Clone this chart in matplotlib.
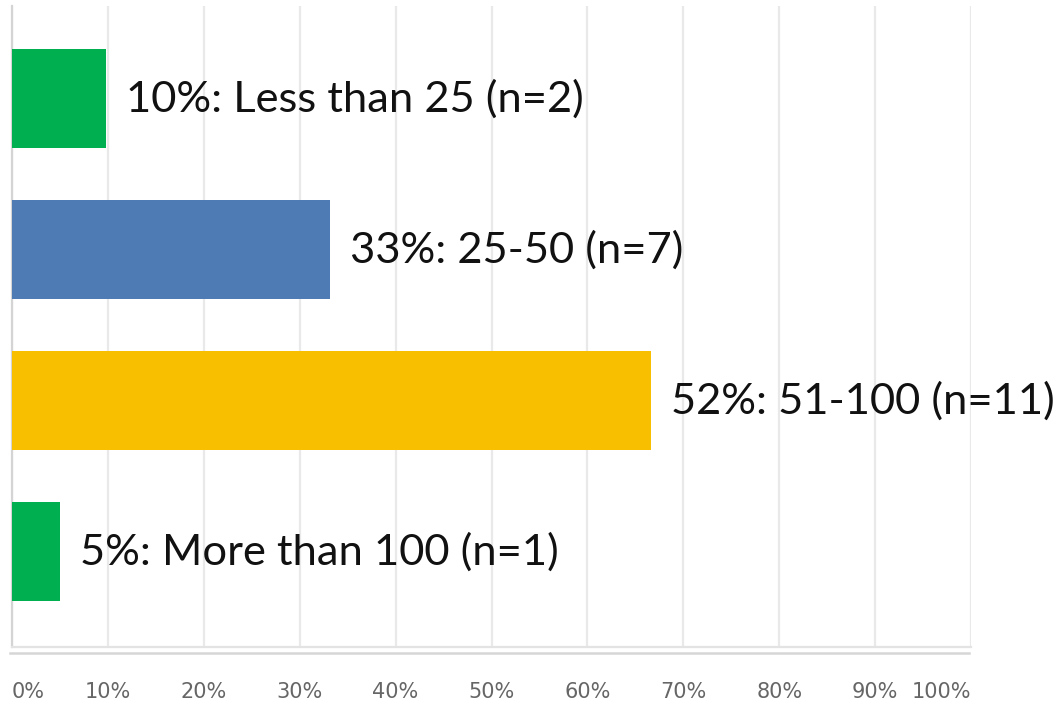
import matplotlib
matplotlib.use("Agg")
import matplotlib.pyplot as plt
import numpy as np

# Survey responses by group size
categories = ["Less than 25", "25-50", "51-100", "More than 100"]
shares = [10, 33, 52, 5]          # percent of respondents, as stated
counts = [2, 7, 11, 1]
bar_lengths = [9.8, 33.2, 66.6, 5.0]  # bar extent on the percent axis
bar_colors = ["#00B050", "#4E7BB4", "#F8BF00", "#00B050"]
tick_values = list(range(0, 101, 10))
tick_labels = [f"{v}%" for v in tick_values]

fig = plt.figure(figsize=(10.56, 7.01), dpi=100)
ax = fig.add_axes([12 / 1056, 54 / 701, 959 / 1056, 641 / 701])

y = np.arange(len(categories))
ax.barh(y, bar_lengths, height=0.66, color=bar_colors, zorder=3)

for yi, length, share, cat, n in zip(y, bar_lengths, shares, categories, counts):
    ax.annotate(f"{share}%: {cat} (n={n})", xy=(length, yi), xytext=(20, 0),
                textcoords="offset pixels", ha="left", va="center",
                fontsize=31.3, family="Lato", color="#111111", zorder=4)

ax.set_xlim(0, 100)
ax.set_ylim(3.632, -0.613)

ax.set_xticks(tick_values)
ax.set_xticklabels(tick_labels, fontsize=15, color="#666666", family="DejaVu Sans")
labels = ax.get_xticklabels()
labels[0].set_horizontalalignment("left")
labels[-1].set_horizontalalignment("right")
ax.tick_params(axis="x", length=0, pad=25)
ax.set_yticks([])

ax.grid(axis="x", color="#e9e9e9", linewidth=1.6, zorder=0)
for side in ["top", "right"]:
    ax.spines[side].set_visible(False)
ax.spines["left"].set_color("#d4d4d4")
ax.spines["left"].set_linewidth(1.6)
ax.spines["bottom"].set_color("#e3e3e3")
ax.spines["bottom"].set_linewidth(1.6)

# second, slightly darker baseline just under the plot frame
ax.plot([-0.002, 0.998], [-0.009, -0.009], transform=ax.transAxes,
        color="#d6d6d6", linewidth=1.8, clip_on=False, zorder=2)

fig.savefig("out.png", dpi=100, facecolor="white")
